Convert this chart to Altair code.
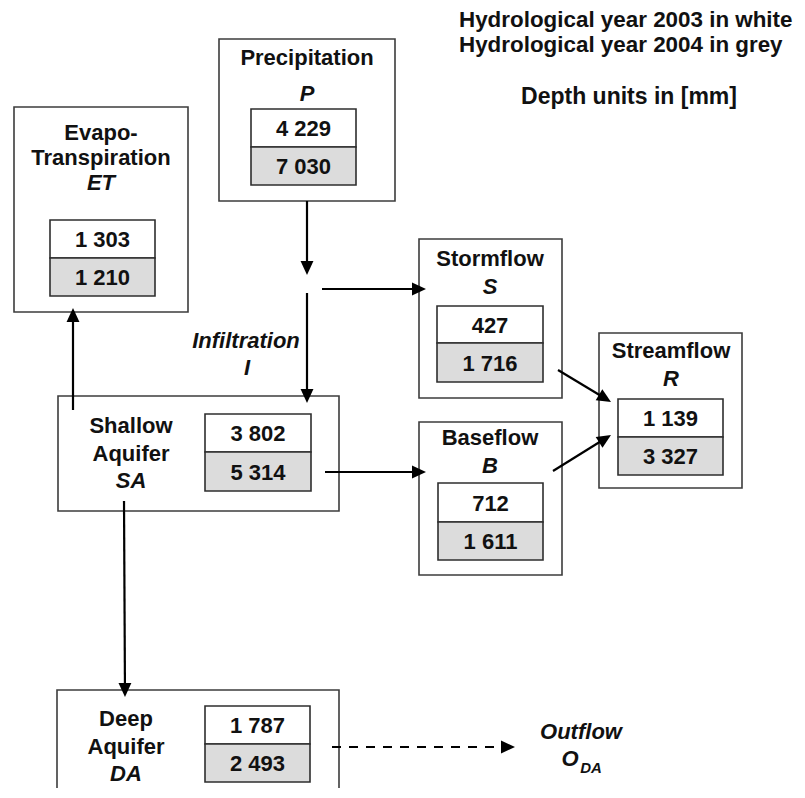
import math
import altair as alt
import pandas as pd

# ---------------- values ----------------
node_names = ["Precipitation", "Evapo-Transpiration", "Stormflow", "Streamflow",
              "Shallow Aquifer", "Baseflow", "Deep Aquifer"]
node_title_lines = [["Precipitation"], ["Evapo-", "Transpiration"], ["Stormflow"],
                    ["Streamflow"], ["Shallow", "Aquifer"], ["Baseflow"], ["Deep", "Aquifer"]]
node_symbols = ["P", "ET", "S", "R", "SA", "B", "DA"]
year_2003 = ["4 229", "1 303", "427", "1 139", "3 802", "712", "1 787"]   # white cells
year_2004 = ["7 030", "1 210", "1 716", "3 327", "5 314", "1 611", "2 493"]  # grey cells
header_lines = ["Hydrological year 2003 in white", "Hydrological year 2004 in grey"]
units_line = "Depth units in [mm]"
infiltration_label = ["Infiltration", "I"]
outflow_label = ["Outflow", "O", "DA"]

# ---------------- layout (pixel positions of the diagram) ----------------
# outer box: x1, x2, y1, y2
outer_box = [(219, 395, 39, 201), (14, 188, 107, 312), (419, 562, 239, 398),
             (599, 742, 333, 488), (58, 339, 396, 511), (419, 562, 422, 575),
             (57, 339, 690, 830)]
# inner value box: x1, x2, ytop, ymid, ybottom
inner_box = [(251, 356, 109, 147, 185), (50, 155, 220, 258, 296), (437, 543, 306, 343, 382),
             (618, 723, 399, 437, 475), (205, 311, 414, 452, 491), (438, 543, 483, 522, 560),
             (205, 310, 706, 744, 782)]
# title: centre x, y of each title line, y of symbol
title_pos = [(307, [58], 94), (101, [133, 158], 183), (490, [259], 287),
             (671, [351], 379), (131, [426, 454], 481), (490, [438], 466),
             (126, [719, 747], 774)]
# arrows: x1, y1, x2 (tip), y2 (tip), dashed
arrows = [(307, 201, 307, 275, False), (322, 289, 426, 289, False),
          (307, 293, 307, 403, False), (73, 410, 73, 308, False),
          (325, 472, 426, 472, False), (558, 370, 611, 402, False),
          (553, 471, 611, 435, False), (124, 501, 125, 697, False),
          (332, 747, 515, 747, True)]

W, H = 805, 798
xs = alt.Scale(domain=[0, W], nice=False, zero=False)
ys = alt.Scale(domain=[H, 0], nice=False, zero=False)
FONT = "Liberation Sans"

# ---------------- build tables ----------------
outer_df = pd.DataFrame([{"x": a, "x2": b, "y": c, "y2": d} for a, b, c, d in outer_box])

cells = []
for i, (x1, x2, yt, ym, yb) in enumerate(inner_box):
    cells.append({"x": x1, "x2": x2, "y": yt, "y2": ym, "year": "2003", "val": year_2003[i]})
    cells.append({"x": x1, "x2": x2, "y": ym, "y2": yb, "year": "2004", "val": year_2004[i]})
cell_df = pd.DataFrame(cells)
cell_df["cx"] = (cell_df["x"] + cell_df["x2"]) / 2
cell_df["cy"] = (cell_df["y"] + cell_df["y2"]) / 2 + 1

bold_txt, ital_txt = [], []
for i, (cx, ylines, ysym) in enumerate(title_pos):
    for line, yy in zip(node_title_lines[i], ylines):
        bold_txt.append({"x": cx, "y": yy, "t": line})
    ital_txt.append({"x": cx, "y": ysym, "t": node_symbols[i]})
ital_txt.append({"x": 246, "y": 341, "t": infiltration_label[0]})
ital_txt.append({"x": 247, "y": 368, "t": infiltration_label[1]})
ital_txt.append({"x": 581, "y": 732, "t": outflow_label[0]})
ital_txt.append({"x": 570, "y": 759, "t": outflow_label[1]})
bold_df = pd.DataFrame(bold_txt)
ital_df = pd.DataFrame(ital_txt)
sub_df = pd.DataFrame([{"x": 591, "y": 768, "t": outflow_label[2]}])
hdr_df = pd.DataFrame([{"x": 459, "y": 20, "t": header_lines[0]},
                       {"x": 459, "y": 45, "t": header_lines[1]}])
unit_df = pd.DataFrame([{"x": 629, "y": 97, "t": units_line}])

HEAD_LEN = 14.0
shafts, heads = [], []
for x1, y1, x2, y2, dashed in arrows:
    dx, dy = x2 - x1, y2 - y1
    L = math.hypot(dx, dy)
    ux, uy = dx / L, dy / L
    shafts.append({"x": x1, "y": y1, "x2": x2 - ux * (HEAD_LEN - 3), "y2": y2 - uy * (HEAD_LEN - 3),
                   "dashed": dashed})
    ang = math.degrees(math.atan2(dx, -dy)) % 360
    heads.append({"x": x2, "y": y2, "angle": ang})
shaft_df = pd.DataFrame(shafts)
head_df = pd.DataFrame(heads)

# ---------------- layers ----------------
def X(f="x"):
    return alt.X(f"{f}:Q", scale=xs, axis=None)

def Y(f="y"):
    return alt.Y(f"{f}:Q", scale=ys, axis=None)

outer = alt.Chart(outer_df).mark_rect(fill="white", stroke="#3c3c3c", strokeWidth=1.6).encode(
    x=X(), x2="x2:Q", y=Y(), y2="y2:Q")

cells_layer = alt.Chart(cell_df).mark_rect(stroke="#2e2e2e", strokeWidth=1.6).encode(
    x=X(), x2="x2:Q", y=Y(), y2="y2:Q",
    fill=alt.Fill("year:N", scale=alt.Scale(domain=["2003", "2004"], range=["#ffffff", "#dcdcdc"]),
                  legend=None))

cell_text = alt.Chart(cell_df).mark_text(font=FONT, fontWeight="bold", fontSize=22,
                                         align="center", baseline="middle", color="#111").encode(
    x=X("cx"), y=Y("cy"), text="val:N")

solid = alt.Chart(shaft_df).transform_filter("!datum.dashed").mark_rule(
    color="#000", strokeWidth=2.2).encode(x=X(), y=Y(), x2="x2:Q", y2="y2:Q")
dashed = alt.Chart(shaft_df).transform_filter("datum.dashed").mark_rule(
    color="#000", strokeWidth=2.2, strokeDash=[9, 8]).encode(x=X(), y=Y(), x2="x2:Q", y2="y2:Q")

heads_layer = alt.Chart(head_df).mark_point(
    shape="M0,0L-0.46,1L0.46,1Z", filled=True, color="#000", opacity=1,
    size=(2 * HEAD_LEN) ** 2).encode(
    x=X(), y=Y(), angle=alt.Angle("angle:Q", scale=None))

bold_layer = alt.Chart(bold_df).mark_text(font=FONT, fontWeight="bold", fontSize=22,
                                          align="center", baseline="middle", color="#111").encode(
    x=X(), y=Y(), text="t:N")
ital_layer = alt.Chart(ital_df).mark_text(font=FONT, fontWeight="bold", fontStyle="italic",
                                          fontSize=22, align="center", baseline="middle",
                                          color="#111").encode(x=X(), y=Y(), text="t:N")
sub_layer = alt.Chart(sub_df).mark_text(font=FONT, fontWeight="bold", fontStyle="italic",
                                        fontSize=15, align="center", baseline="middle",
                                        color="#111").encode(x=X(), y=Y(), text="t:N")
hdr_layer = alt.Chart(hdr_df).mark_text(font=FONT, fontWeight="bold", fontSize=22.4,
                                        align="left", baseline="middle",
                                        color="#111").encode(x=X(), y=Y(), text="t:N")
unit_layer = alt.Chart(unit_df).mark_text(font=FONT, fontWeight="bold", fontSize=23,
                                          align="center", baseline="middle",
                                          color="#111").encode(x=X(), y=Y(), text="t:N")

chart = alt.layer(outer, cells_layer, solid, dashed, heads_layer, cell_text, bold_layer,
                  ital_layer, sub_layer, hdr_layer, unit_layer).properties(
    width=W, height=H,
    autosize=alt.AutoSizeParams(type="none"),
    padding={"left": -8, "top": -8, "right": -8, "bottom": -10},
    background="white",
).configure_view(stroke=None)

chart.save("out.html", embed_options={"renderer": "svg", "actions": False})
